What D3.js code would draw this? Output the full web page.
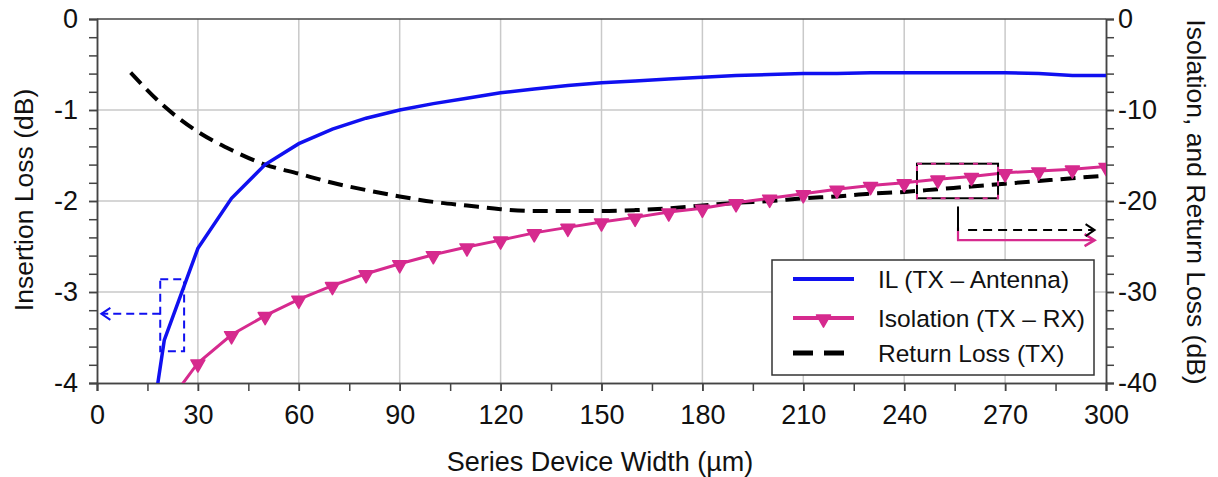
<!DOCTYPE html>
<html>
<head>
<meta charset="utf-8">
<script src="https://cdn.jsdelivr.net/npm/d3@7"></script>
<style>
  html, body { margin: 0; padding: 0; background: #fff; }
  svg text { font-family: "Liberation Sans", Arial, sans-serif; fill: #111; }
</style>
</head>
<body>
<svg id="chart" width="1218" height="477"></svg>
<script>
// ---------- data ----------
const widths = [10,20,30,40,50,60,70,80,90,100,110,120,130,140,150,160,170,180,190,200,210,220,230,240,250,260,270,280,290,300];
const ilValues = [-6.0,-3.53,-2.52,-1.97,-1.60,-1.37,-1.21,-1.09,-1.00,-0.93,-0.87,-0.81,-0.77,-0.73,-0.70,-0.68,-0.66,-0.64,-0.62,-0.61,-0.60,-0.60,-0.59,-0.59,-0.59,-0.59,-0.59,-0.60,-0.62,-0.62];
const isoWidths = [20,30,40,50,60,70,80,90,100,110,120,130,140,150,160,170,180,190,200,210,220,230,240,250,260,270,280,290,300];
const isoValues = [-42.8,-37.8,-34.7,-32.6,-30.8,-29.3,-28.0,-26.9,-25.9,-25.05,-24.3,-23.5,-22.9,-22.3,-21.8,-21.2,-20.8,-20.2,-19.7,-19.2,-18.7,-18.3,-18.0,-17.6,-17.3,-16.9,-16.7,-16.5,-16.2];
const rlValues = [-5.9,-9.6,-12.4,-14.4,-16.0,-17.0,-18.0,-18.8,-19.5,-20.1,-20.5,-20.9,-21.1,-21.1,-21.1,-21.0,-20.8,-20.5,-20.2,-20.0,-19.7,-19.5,-19.2,-19.0,-18.7,-18.4,-18.1,-17.8,-17.5,-17.2];
const xTicks = [0,30,60,90,120,150,180,210,240,270,300];
const yLeftTicks = [0,-1,-2,-3,-4];
const yRightTicks = [0,-10,-20,-30,-40];
const seriesNames = ["IL (TX \u2013 Antenna)", "Isolation (TX \u2013 RX)", "Return Loss (TX)"];
const xTitle = "Series Device Width (\u00b5m)";
const yLeftTitle = "Insertion Loss (dB)";
const yRightTitle = "Isolation, and Return Loss (dB)";

// ---------- layout ----------
const L = 97, R = 1106, T = 19, B = 383;
const BLUE = "#1010f0", PINK = "#d62a8e", GRID = "#c9c9c9", AX = "#444";

const svg = d3.select("#chart");
const x = d3.scaleLinear().domain([0,300]).range([L,R]);
const yL = d3.scaleLinear().domain([-4,0]).range([B,T]);
const yR = d3.scaleLinear().domain([-40,0]).range([B,T]);
const fmt = d => String(d);

svg.append("defs").append("clipPath").attr("id","clip")
  .append("rect").attr("x",L).attr("y",T).attr("width",R-L).attr("height",B-T);

// grid
const grid = svg.append("g");
grid.selectAll("line.vx").data(xTicks.slice(1,-1)).enter().append("line")
  .attr("x1",d=>x(d)).attr("x2",d=>x(d)).attr("y1",T).attr("y2",B)
  .attr("stroke",GRID).attr("stroke-width",1.5);
grid.selectAll("line.hy").data(yLeftTicks.slice(1,-1)).enter().append("line")
  .attr("x1",L).attr("x2",R).attr("y1",d=>yL(d)).attr("y2",d=>yL(d))
  .attr("stroke",GRID).attr("stroke-width",1.5);

// axes
const fs = "27px";
const gx = svg.append("g").attr("transform",`translate(0,${B})`)
  .call(d3.axisBottom(x).tickValues(d3.range(0,301,15)).tickSize(8).tickFormat(""));
const gxl = svg.append("g").attr("transform",`translate(0,${B})`)
  .call(d3.axisBottom(x).tickValues(xTicks).tickSize(8).tickPadding(14).tickFormat(fmt));
const gy = svg.append("g").attr("transform",`translate(${L},0)`)
  .call(d3.axisLeft(yL).tickValues(d3.range(0,21).map(i=>-i*0.2)).tickSize(8).tickFormat(""));
const gyl = svg.append("g").attr("transform",`translate(${L},0)`)
  .call(d3.axisLeft(yL).tickValues(yLeftTicks).tickSize(8).tickPadding(11).tickFormat(fmt));
const gr = svg.append("g").attr("transform",`translate(${R},0)`)
  .call(d3.axisRight(yR).tickValues(d3.range(0,21).map(i=>-i*2)).tickSize(8).tickFormat(""));
const grl = svg.append("g").attr("transform",`translate(${R},0)`)
  .call(d3.axisRight(yR).tickValues(yRightTicks).tickSize(8).tickPadding(4).tickFormat(fmt));
[gx,gxl,gy,gyl,gr,grl].forEach(g=>{
  g.selectAll("path.domain").attr("stroke",AX).attr("stroke-width",1.5);
  g.selectAll(".tick line").attr("stroke",AX).attr("stroke-width",1.5);
  g.selectAll("text").style("font-size",fs).attr("fill","#111")
    .style("font-family","'Liberation Sans', Arial, sans-serif");
});
// top border
svg.append("line").attr("x1",L).attr("x2",R).attr("y1",T).attr("y2",T)
  .attr("stroke",AX).attr("stroke-width",1.5);

// axis titles
svg.append("text").attr("x",600).attr("y",471).attr("text-anchor","middle")
  .style("font-size","27px").text(xTitle);
svg.append("text").attr("transform",`translate(24,${200}) rotate(-90)`)
  .attr("text-anchor","middle").attr("dominant-baseline","central")
  .style("font-size","26.5px").text(yLeftTitle);
svg.append("text").attr("transform",`translate(1196,${(T+B)/2+1}) rotate(90)`)
  .attr("text-anchor","middle").attr("dominant-baseline","central")
  .style("font-size","26.5px").text(yRightTitle);

// series
const plot = svg.append("g").attr("clip-path","url(#clip)");
const ilData = widths.map((w,i)=>({w, v: ilValues[i]}));
const isoData = isoWidths.map((w,i)=>({w, v: isoValues[i]}));
const rlData = widths.map((w,i)=>({w, v: rlValues[i]}));

plot.append("path").datum(rlData)
  .attr("d", d3.line().x(d=>x(d.w)).y(d=>yR(d.v)).curve(d3.curveMonotoneX))
  .attr("fill","none").attr("stroke","#000").attr("stroke-width",4)
  .attr("stroke-dasharray","15,8");
plot.append("path").datum(isoData)
  .attr("d", d3.line().x(d=>x(d.w)).y(d=>yR(d.v)))
  .attr("fill","none").attr("stroke",PINK).attr("stroke-width",3);
plot.selectAll("path.mk").data(isoData).enter().append("path")
  .attr("transform",d=>`translate(${x(d.w)},${yR(d.v)+1}) rotate(180)`)
  .attr("d", d3.symbol().type(d3.symbolTriangle).size(85))
  .attr("fill",PINK).attr("stroke",PINK).attr("stroke-width",1.5).attr("stroke-linejoin","round");
plot.append("path").datum(ilData)
  .attr("d", d3.line().x(d=>x(d.w)).y(d=>yL(d.v)))
  .attr("fill","none").attr("stroke",BLUE).attr("stroke-width",3.5);

// annotations (in data units)
const ann = svg.append("g");
ann.append("rect").attr("x",x(18.8)).attr("y",yL(-2.86))
  .attr("width",x(25.9)-x(18.8)).attr("height",yL(-3.65)-yL(-2.86))
  .attr("fill","none").attr("stroke",BLUE).attr("stroke-width",2).attr("stroke-dasharray","8,5");
ann.append("line").attr("x1",x(18.8)).attr("x2",x(1.3)).attr("y1",yL(-3.24)).attr("y2",yL(-3.24))
  .attr("stroke",BLUE).attr("stroke-width",2).attr("stroke-dasharray","8,5");
ann.append("path").attr("d",`M${x(1.3)+9},${yL(-3.24)-6} L${x(1.3)},${yL(-3.24)} L${x(1.3)+9},${yL(-3.24)+6}`)
  .attr("fill","none").attr("stroke",BLUE).attr("stroke-width",2);

ann.append("rect").attr("x",x(243.8)).attr("y",yR(-15.9))
  .attr("width",x(267.9)-x(243.8)).attr("height",yR(-19.7)-yR(-15.9))
  .attr("fill","none").attr("stroke","#000").attr("stroke-width",2);
ann.append("rect").attr("x",x(243.8)).attr("y",yR(-15.9))
  .attr("width",x(267.9)-x(243.8)).attr("height",yR(-19.7)-yR(-15.9))
  .attr("fill","none").attr("stroke",PINK).attr("stroke-width",2).attr("stroke-dasharray","5,9");
const ax0 = x(256), ayP = yR(-24.3), ayB = yR(-23.2), axEnd = x(296.6);
ann.append("path").attr("d",`M${ax0},${yR(-22.9)} L${ax0},${ayP} L${axEnd},${ayP}`)
  .attr("fill","none").attr("stroke",PINK).attr("stroke-width",2.2);
ann.append("path").attr("d",`M${axEnd-10},${ayP-6} L${axEnd},${ayP} L${axEnd-10},${ayP+6}`)
  .attr("fill","none").attr("stroke",PINK).attr("stroke-width",2.5);
ann.append("line").attr("x1",ax0).attr("x2",ax0).attr("y1",yR(-20.6)).attr("y2",yR(-23.3))
  .attr("stroke","#000").attr("stroke-width",2);
ann.append("line").attr("x1",x(259)).attr("x2",axEnd).attr("y1",ayB).attr("y2",ayB)
  .attr("stroke","#000").attr("stroke-width",2).attr("stroke-dasharray","9,6");
ann.append("path").attr("d",`M${axEnd-9},${ayB-6} L${axEnd},${ayB} L${axEnd-9},${ayB+6}`)
  .attr("fill","none").attr("stroke","#000").attr("stroke-width",2);

// legend
const lg = svg.append("g").attr("transform","translate(772,260)");
lg.append("rect").attr("width",322).attr("height",115).attr("fill","#fff")
  .attr("stroke","#333").attr("stroke-width",1.5);
const rows = [19, 58, 93];
const styles = [
  {stroke:BLUE, dash:null, w:4},
  {stroke:PINK, dash:null, w:4},
  {stroke:"#000", dash:"20,11", w:5}
];
seriesNames.forEach((name,i)=>{
  lg.append("line").attr("x1",21).attr("x2",82).attr("y1",rows[i]).attr("y2",rows[i])
    .attr("stroke",styles[i].stroke).attr("stroke-width",styles[i].w)
    .attr("stroke-dasharray",styles[i].dash);
  if (i===1) {
    lg.append("path").attr("transform",`translate(51.5,${rows[i]+1}) rotate(180)`)
      .attr("d", d3.symbol().type(d3.symbolTriangle).size(85))
      .attr("fill",PINK).attr("stroke",PINK).attr("stroke-width",1.5).attr("stroke-linejoin","round");
  }
  lg.append("text").attr("x",106).attr("y",rows[i]).attr("dominant-baseline","central")
    .style("font-size","24.5px").text(name);
});
</script>
</body>
</html>
